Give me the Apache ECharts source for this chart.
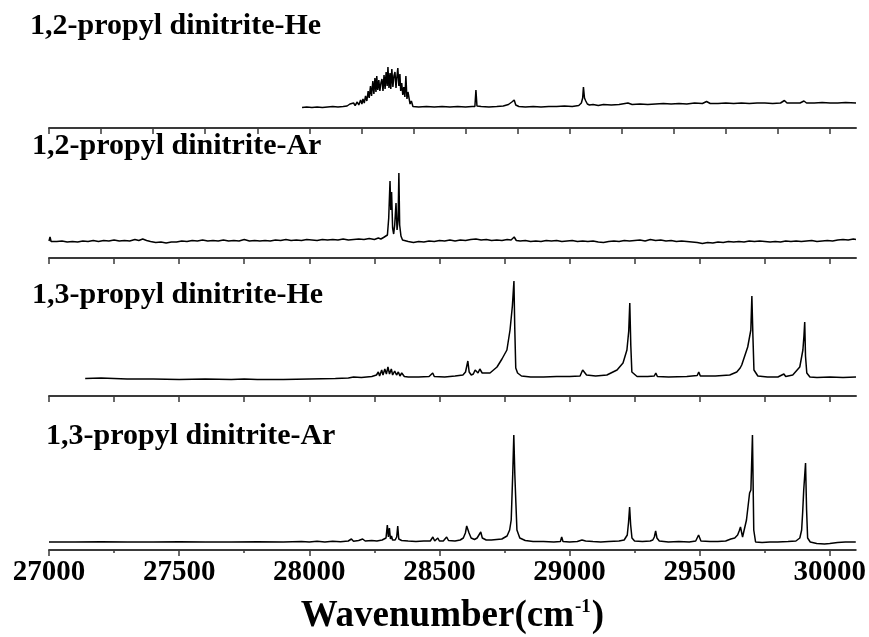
<!DOCTYPE html>
<html><head><meta charset="utf-8">
<script src="https://cdn.jsdelivr.net/npm/echarts@6/dist/echarts.min.js"></script>
<style>html,body{margin:0;padding:0;background:#fff}#c{width:869px;height:637px}</style>
</head><body><div id="c"></div>
<script>
const panelTitles = ['1,2-propyl dinitrite-He','1,2-propyl dinitrite-Ar','1,3-propyl dinitrite-He','1,3-propyl dinitrite-Ar'];
const ticks200 = [27000,27200,27400,27600,27800,28000,28200,28400,28600,28800,29000,29200,29400,29600,29800,30000];
const ticks250 = [27000,27250,27500,27750,28000,28250,28500,28750,29000,29250,29500,29750,30000];
const labels500 = [27000,27500,28000,28500,29000,29500,30000];
const minor250 = [27250,27750,28250,28750,29250,29750];

const he12 = [[27972,20.5],[27990,21],[28010,20.5],[28030,21],[28050,20.5],[28070,21],[28090,21.5],[28110,21],[28130,21.5],[28145,22],[28156,24],[28162,22],[28170,25],[28176,22.5],[28184,26],[28190,23],[28197,28],[28202,24],[28206,29],[28211,25],[28216,32],[28221,27],[28226,37],[28230,30],[28235,42],[28239,32],[28244,47],[28248,34],[28252,50],[28256,36],[28259,52],[28263,38],[28267,48],[28271,37],[28275,45],[28279,49],[28283,37],[28287,53],[28291,39],[28295,56],[28299,42],[28302,61],[28306,40],[28310,55],[28313,39],[28317,59],[28321,41],[28325,52],[28329,56],[28333,40],[28336,50],[28340,60],[28344,42],[28348,54],[28351,37],[28355,45],[28359,33],[28363,41],[28367,31],[28371,52],[28375,29],[28379,36],[28383,30],[28387,24],[28392,27],[28398,21.5],[28420,21],[28450,21.5],[28480,21],[28510,21.5],[28540,21],[28570,21.5],[28600,21],[28625,21.5],[28636,21.5],[28640,38],[28644,22],[28660,21.5],[28690,21],[28720,21.5],[28745,22],[28765,23.5],[28778,26],[28787,28],[28793,23],[28805,21.5],[28830,21],[28860,21.5],[28890,21],[28920,21.5],[28950,21.5],[28980,22],[29010,21.5],[29035,22.5],[29045,25],[29050,30],[29053,41],[29057,30],[29062,27],[29068,24],[29076,23],[29090,23.5],[29110,22.5],[29130,23.5],[29160,23],[29190,23.5],[29224,25],[29240,23.5],[29270,24],[29300,23.5],[29330,24],[29360,24.5],[29390,24],[29420,24.5],[29450,24],[29480,25],[29510,24.5],[29526,26.5],[29540,24.5],[29570,24.5],[29600,25],[29630,24.5],[29660,25],[29690,24.5],[29720,25],[29750,25],[29780,24.5],[29810,25],[29825,27.5],[29835,25],[29860,25],[29885,25],[29900,27],[29910,25],[29940,25],[29970,25.5],[30000,25],[30030,25],[30060,25.5],[30100,25]];

const ar12 = [[27000,17],[27004,21],[27008,16.5],[27030,16.5],[27050,17],[27070,16],[27090,16.5],[27110,16],[27130,17],[27150,16.5],[27170,17.5],[27190,16.5],[27210,17.5],[27230,17],[27250,18],[27270,17],[27290,17.5],[27310,17],[27330,18.5],[27345,17.5],[27360,19],[27375,17.5],[27390,16.5],[27410,15.5],[27430,16],[27450,15],[27470,16],[27490,16],[27510,17],[27530,16.5],[27550,17.5],[27570,17],[27590,18],[27610,17],[27630,17.5],[27650,17],[27670,18],[27690,17],[27710,17.5],[27730,17],[27750,18.5],[27770,17],[27790,17.5],[27810,17],[27830,17.5],[27850,17],[27870,18],[27890,17.5],[27910,18.5],[27930,17.5],[27950,18],[27970,17.5],[27990,18.5],[28010,18],[28030,17.5],[28050,18.5],[28070,18],[28090,18.5],[28110,18],[28130,19],[28150,18],[28170,18.5],[28190,19],[28210,18.5],[28230,19.5],[28250,18.5],[28265,20],[28275,19],[28285,20.5],[28292,19],[28300,23],[28305,40],[28310,77],[28313,48],[28316,66],[28320,30],[28324,24],[28328,33],[28333,55],[28337,28],[28341,38],[28344,85],[28347,33],[28352,22],[28358,18],[28365,16],[28380,16.5],[28400,15.5],[28420,16.5],[28440,16],[28460,17],[28480,16.5],[28500,17.5],[28520,17],[28540,18],[28560,17],[28580,18],[28600,17.5],[28620,18.5],[28640,19],[28660,18],[28680,18.5],[28700,17.5],[28720,18],[28740,17.5],[28760,18.5],[28775,18],[28787,21],[28795,17.5],[28810,17],[28830,17.5],[28850,16.5],[28870,17],[28890,16.5],[28910,17.5],[28930,17],[28950,17.5],[28970,16.5],[28990,17],[29010,17.5],[29030,16.5],[29050,17],[29070,16.5],[29090,17],[29110,16],[29130,15.5],[29150,16.5],[29170,17],[29190,16.5],[29210,17.5],[29230,17],[29250,17.5],[29270,18],[29290,17],[29310,18.5],[29330,17.5],[29350,18],[29370,17],[29390,17.5],[29410,16.5],[29430,17],[29450,16.5],[29470,16],[29490,15.5],[29510,14.5],[29530,15.5],[29550,15],[29570,16],[29590,15.5],[29610,16.5],[29630,16],[29650,16.5],[29670,16],[29690,17],[29710,16.5],[29730,17],[29750,16.5],[29770,16],[29790,16.5],[29810,16],[29830,17],[29850,16.5],[29870,17],[29890,16.5],[29910,17],[29930,17.5],[29950,16.5],[29970,17],[29990,17.5],[30010,17],[30030,18],[30050,18.5],[30070,18],[30090,19],[30100,18.5]];

const he13 = [[27139,17.5],[27200,18],[27250,17.5],[27300,17],[27400,17],[27500,16.5],[27600,17],[27700,16.5],[27750,17],[27800,16.5],[27900,16.5],[28000,17],[28100,17.5],[28150,18],[28170,19],[28200,18.5],[28240,19.5],[28258,21],[28265,24],[28270,20],[28278,26],[28283,21],[28290,27],[28296,22],[28302,29],[28308,22],[28315,27],[28320,21],[28328,25],[28335,21],[28342,24],[28348,20],[28355,23],[28365,19.5],[28380,19],[28420,19],[28460,19.5],[28474,23],[28480,19.5],[28520,19],[28560,20],[28590,21],[28600,24],[28609,35],[28614,24],[28622,21],[28630,22],[28637,26],[28643,28],[28648,23],[28655,27],[28659,29],[28664,23],[28694,23],[28721,29],[28740,37],[28759,46],[28771,66],[28780,90],[28786,115],[28789,70],[28793,28],[28800,23],[28815,20],[28850,19],[28900,19],[28950,19.5],[29000,19.5],[29040,20],[29050,26],[29055,24],[29065,21],[29100,20],[29143,21],[29182,26],[29205,33],[29220,46],[29227,65],[29231,93],[29235,50],[29239,24],[29259,19.5],[29300,19.5],[29325,20],[29331,23],[29337,19.5],[29380,19],[29450,19.5],[29490,20.5],[29496,24],[29502,20],[29560,20],[29615,21],[29642,24],[29655,28],[29661,31],[29668,33],[29684,49],[29696,66],[29700,100],[29704,60],[29708,26],[29723,20],[29760,19],[29800,19],[29823,22],[29830,19.5],[29857,21],[29884,29],[29896,46],[29900,60],[29903,74],[29906,40],[29911,23],[29923,19],[29950,18.5],[30000,19],[30050,18.5],[30100,19]];

const ar13 = [[27000,8],[27100,8],[27200,8.2],[27300,8],[27400,8],[27500,8.2],[27600,8],[27700,8],[27800,8.2],[27900,8],[27970,8.5],[28000,8],[28030,8.8],[28060,8],[28090,8.8],[28120,8.2],[28150,9],[28162,11],[28170,8.8],[28190,9.5],[28205,11],[28215,9],[28240,9.5],[28260,9],[28280,10],[28295,12],[28300,25],[28304,13],[28308,22],[28312,11],[28316,14],[28320,10],[28330,10],[28336,13],[28340,24],[28344,11],[28355,9.5],[28380,9],[28410,8.5],[28440,9],[28465,9],[28475,13],[28482,9],[28494,12],[28500,9],[28515,9],[28528,13],[28535,9.5],[28560,9],[28580,10],[28592,12],[28600,17],[28605,24],[28609,26],[28614,17],[28622,12],[28635,10.5],[28645,12],[28652,15],[28659,18],[28665,12],[28680,10],[28700,10],[28720,10.5],[28740,11],[28760,14],[28770,20],[28776,30],[28782,77],[28786,115],[28790,75],[28794,47],[28798,20],[28809,12],[28830,9.5],[28860,8.5],[28900,8.5],[28940,8],[28965,8.5],[28970,13],[28975,8.5],[29000,8],[29030,8.5],[29048,10],[29055,12],[29062,9],[29090,8.5],[29120,8],[29150,8.5],[29190,9],[29210,10],[29222,15],[29227,28],[29231,43],[29235,25],[29240,12],[29250,9],[29280,8.5],[29310,9],[29320,10],[29326,13],[29331,19],[29336,12],[29345,9],[29380,8],[29420,8.5],[29460,8],[29485,9],[29496,15],[29505,9],[29540,8.5],[29570,8.5],[29600,9],[29620,11],[29635,12],[29646,15],[29652,19],[29657,23],[29665,13],[29680,30],[29692,57],[29697,60],[29703,115],[29708,20],[29715,8],[29740,7.5],[29770,8],[29800,8],[29840,8.5],[29870,9],[29885,12],[29892,20],[29896,38],[29900,60],[29907,87],[29911,40],[29915,12],[29925,8],[29950,6.5],[29980,6],[30000,6.5],[30030,7.5],[30060,8],[30100,8]];

const seriesData = [he12, ar12, he13, ar13];

const FONT = '"Liberation Serif","Times New Roman",serif';
const L = 49, R = 13;
const panels = [
  {top: 40, height: 88, ticks: ticks200},
  {top: 140, height: 118, ticks: ticks250},
  {top: 270, height: 126, ticks: ticks250},
  {top: 420, height: 130, ticks: labels500}
];
const titleTops = [11, 131, 280, 421];
const titleLefts = [30, 32, 32, 46];
const lineStyle = {color: '#3a3a3a', width: 2};

const grid = panels.map(p => ({left: L, right: R, top: p.top, height: p.height}));
grid.push({left: L, right: R, top: 549, height: 1});

const xAxis = panels.map((p, i) => ({
  type: 'value', gridIndex: i, min: 27000, max: 30100, position: 'bottom',
  axisLine: {show: true, lineStyle: lineStyle},
  axisTick: {show: true, inside: false, length: 6, customValues: p.ticks, lineStyle: {color: '#3a3a3a', width: 1.5}},
  axisLabel: i === 3 ? {show: true, customValues: labels500, margin: 8, color: '#000', fontFamily: FONT, fontWeight: 'bold', fontSize: 29, formatter: v => String(v)} : {show: false},
  splitLine: {show: false},
  name: i === 3 ? '{a|Wavenumber(cm}{s|-1}{a|)}' : '',
  nameLocation: 'middle', nameGap: 48,
  nameTextStyle: {rich: {
    a: {fontFamily: FONT, fontWeight: 'bold', fontSize: 37, color: '#000'},
    s: {fontFamily: FONT, fontWeight: 'bold', fontSize: 19, color: '#000', verticalAlign: 'top', padding: [0,1,16,1]}
  }}
}));
xAxis.push({
  type: 'value', gridIndex: 4, min: 27000, max: 30100, position: 'bottom',
  axisLine: {show: false},
  axisTick: {show: true, length: 3, customValues: minor250, lineStyle: {color: '#3a3a3a', width: 1.5}},
  axisLabel: {show: false}, splitLine: {show: false}
});

const yAxis = panels.map((p, i) => ({type: 'value', gridIndex: i, min: 0, max: p.height, show: false}));
yAxis.push({type: 'value', gridIndex: 4, min: 0, max: 1, show: false});

const series = seriesData.map((d, i) => ({
  type: 'line', xAxisIndex: i, yAxisIndex: i, data: d, showSymbol: false, symbol: 'none',
  lineStyle: {color: '#000', width: 1.5}, silent: true
}));

const title = panelTitles.map((t, i) => ({
  text: t, left: titleLefts[i], top: titleTops[i], padding: 0,
  textStyle: {fontFamily: FONT, fontWeight: 'bold', fontSize: 30, color: '#000'}
}));

const chart = echarts.init(document.getElementById('c'), null, {renderer: 'canvas'});
chart.setOption({animation: false, backgroundColor: '#fff', title, grid, xAxis, yAxis, series});
</script></body></html>
